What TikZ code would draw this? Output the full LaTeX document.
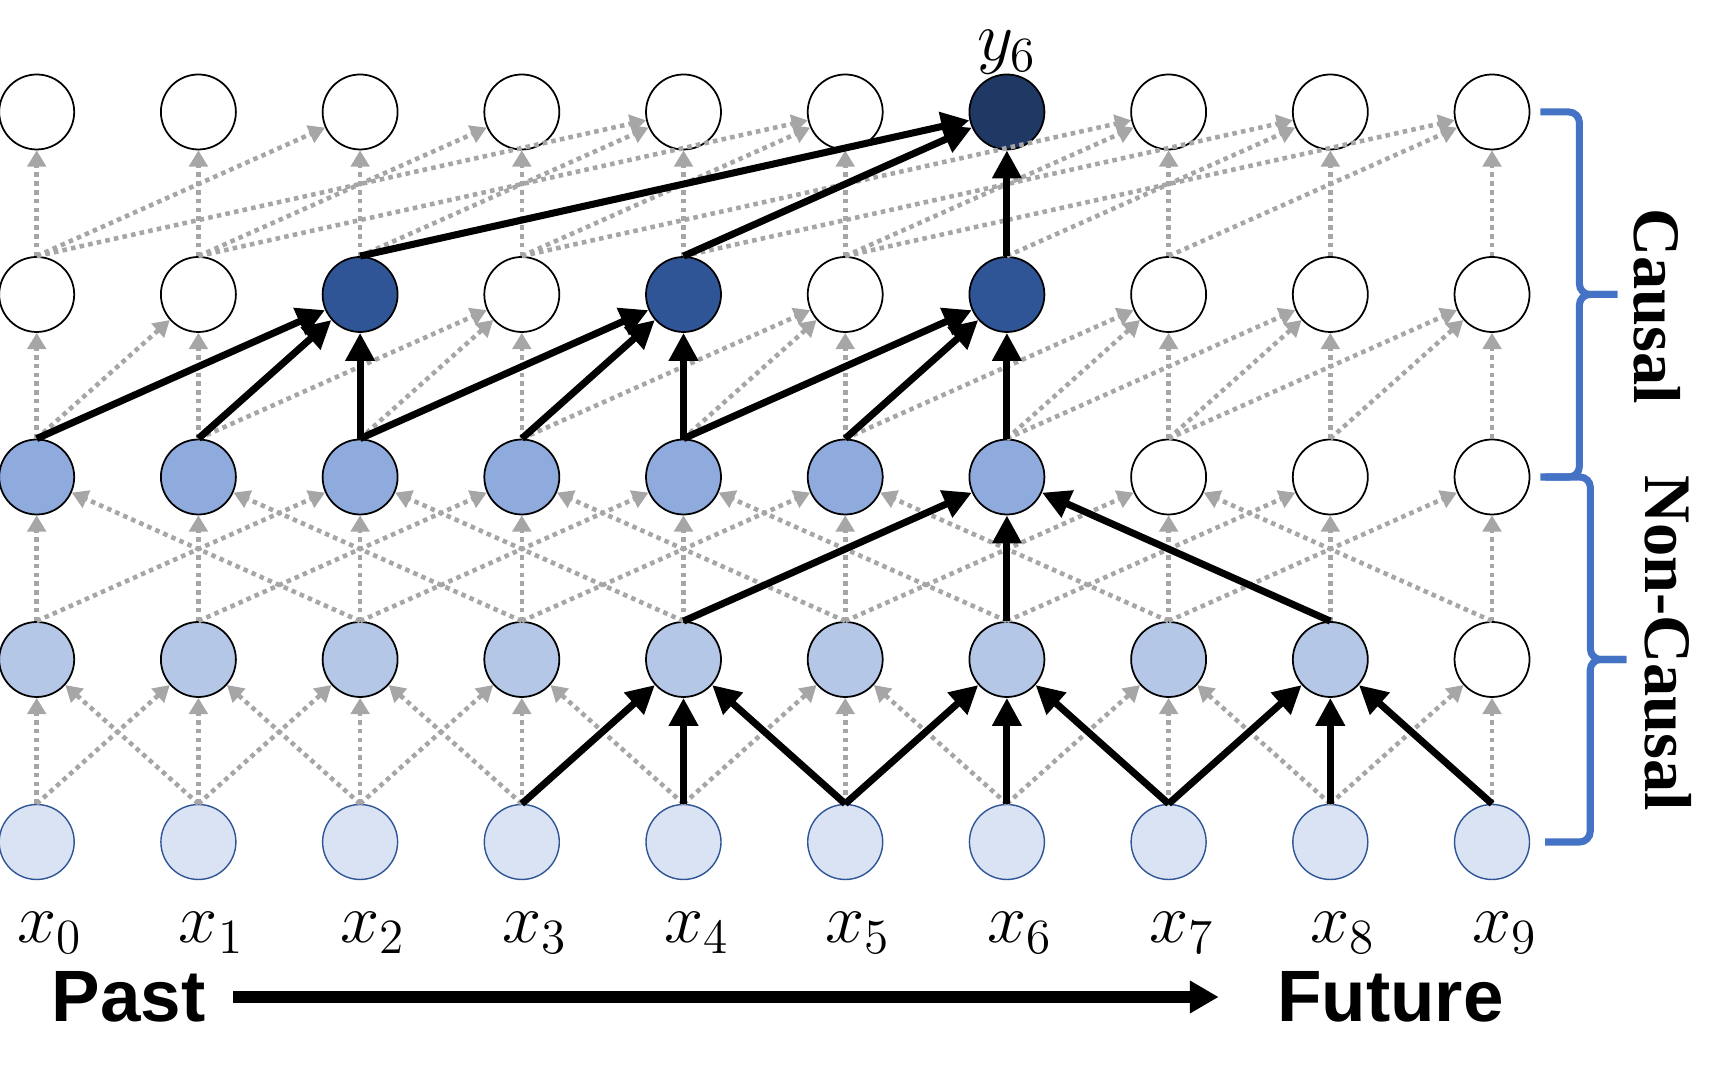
\documentclass[tikz,border=0pt]{standalone}
\usepackage{fix-cm}
\usepackage[no-math]{fontspec}
\setsansfont{Liberation Sans}
\newfontfamily\tagfont{Liberation Serif}
\usetikzlibrary{positioning,arrows.meta,calc}

\definecolor{inpfill}{HTML}{DAE3F3}
\definecolor{inpline}{HTML}{2F5597}
\definecolor{hidA}{HTML}{B4C7E7}
\definecolor{hidB}{HTML}{8FAADC}
\definecolor{hidC}{HTML}{2F5597}
\definecolor{outD}{HTML}{203864}
\definecolor{linkgray}{HTML}{A6A6A6}
\definecolor{bracecol}{HTML}{4472C4}

\begin{document}
\begin{tikzpicture}[
    unit/.style={circle, draw, line width=0.5pt, minimum size=0.75cm, inner sep=0pt},
    input/.style={unit, draw=inpline, line width=0.4pt, fill=inpfill},
    faint/.style={draw=linkgray, line width=1.3pt, dash pattern=on 1.3pt off 1.2pt,
        -{Triangle[length=4.6pt, width=5.2pt]}},
    strong/.style={line width=2pt, -{Triangle[length=8pt, width=8pt]}},
    lbl/.style={inner sep=0pt, font=\fontsize{20}{24}\selectfont},
    tag/.style={font=\tagfont\bfseries\fontsize{18.9}{22}\selectfont, rotate=-90, inner sep=0pt},
    bracket/.style={draw=bracecol, line width=2pt, rounded corners=3pt},
    ends/.style={font=\sffamily\bfseries\fontsize{20.7}{24}\selectfont, inner sep=0pt},
    timeline/.style={line width=3.3pt, -{Triangle[length=8.2pt, width=8.8pt]}}
]
\useasboundingbox (0,0) rectangle (17.27,10.83);

\foreach \c in {0,...,9}{
    \node[input] (n0-\c) at ({0.367+1.617*\c}, 2.41) {};
    \node[lbl, below=9pt of n0-\c, xshift=3.7pt] (x\c) {$x_{\c}$};
}
\foreach \l/\cols in {1/{hidA,hidA,hidA,hidA,hidA,hidA,hidA,hidA,hidA,white},
                      2/{hidB,hidB,hidB,hidB,hidB,hidB,hidB,white,white,white},
                      3/{white,white,hidC,white,hidC,white,hidC,white,white,white},
                      4/{white,white,white,white,white,white,outD,white,white,white}}{
    \foreach \fc [count=\c from 0] in \cols{
        \node[unit, fill=\fc] (n\l-\c) at ({0.367+1.617*\c}, {2.41+1.825*\l}) {};
    }
}
\node[lbl, above=-0.5pt of n4-6] (y6) {$y_6$};

\foreach \l/\c in {1/4,1/6,1/8,2/6,3/2,3/4,3/6,4/6}{
    \expandafter\gdef\csname hot\l-\c\endcsname{}
}
\foreach \l/\offs in {1/{-1,0,1}, 2/{-2,0,2}, 3/{-2,-1,0}, 4/{-4,-2,0}}{
    \pgfmathtruncatemacro\p{\l-1}
    \foreach \c in {0,...,9}{
        \ifcsname hot\l-\c\endcsname\else
        \foreach \s in \offs{
            \pgfmathtruncatemacro\src{\c+\s}
            \ifnum\src>-1 \ifnum\src<10
                \draw[faint] (n\p-\src.north) -- (n\l-\c);
            \fi\fi
        }
        \fi
    }
}
\foreach \l/\c/\offs in {1/4/{-1,0,1}, 1/6/{-1,0,1}, 1/8/{-1,0,1}, 2/6/{-2,0,2},
                         3/2/{-2,-1,0}, 3/4/{-2,-1,0}, 3/6/{-2,-1,0}, 4/6/{-4,-2,0}}{
    \pgfmathtruncatemacro\p{\l-1}
    \foreach \s in \offs{
        \pgfmathtruncatemacro\src{\c+\s}
        \draw[strong] (n\p-\src.north) -- (n\l-\c);
    }
}

\draw[bracket] ([xshift=0.1cm]n4-9.east) -- ++(0.39,0) |- ($(n4-9.east)!.5!(n2-9.east)+(0.87,0)$);
\draw[bracket] ([xshift=0.1cm]n2-9.east) -- ++(0.39,0) |- ($(n4-9.east)!.5!(n2-9.east)+(0.87,0)$);
\draw[bracket] ([xshift=0.15cm]n2-9.east) -- ++(0.45,0) |- ($(n2-9.east)!.5!(n0-9.east)+(0.96,0)$);
\draw[bracket] ([xshift=0.15cm]n0-9.east) -- ++(0.45,0) |- ($(n2-9.east)!.5!(n0-9.east)+(0.96,0)$);
\node[tag] (causal) at (16.57,7.765) {Causal};
\node[tag] (noncausal) at (16.68,4.40) {Non-Causal};

\node[ends] (past) at (1.285,0.86) {Past};
\node[ends] (future) at (13.905,0.86) {Future};
\draw[timeline, shorten <=0.27cm, shorten >=0.58cm] (past) -- (future);
\end{tikzpicture}
\end{document}
